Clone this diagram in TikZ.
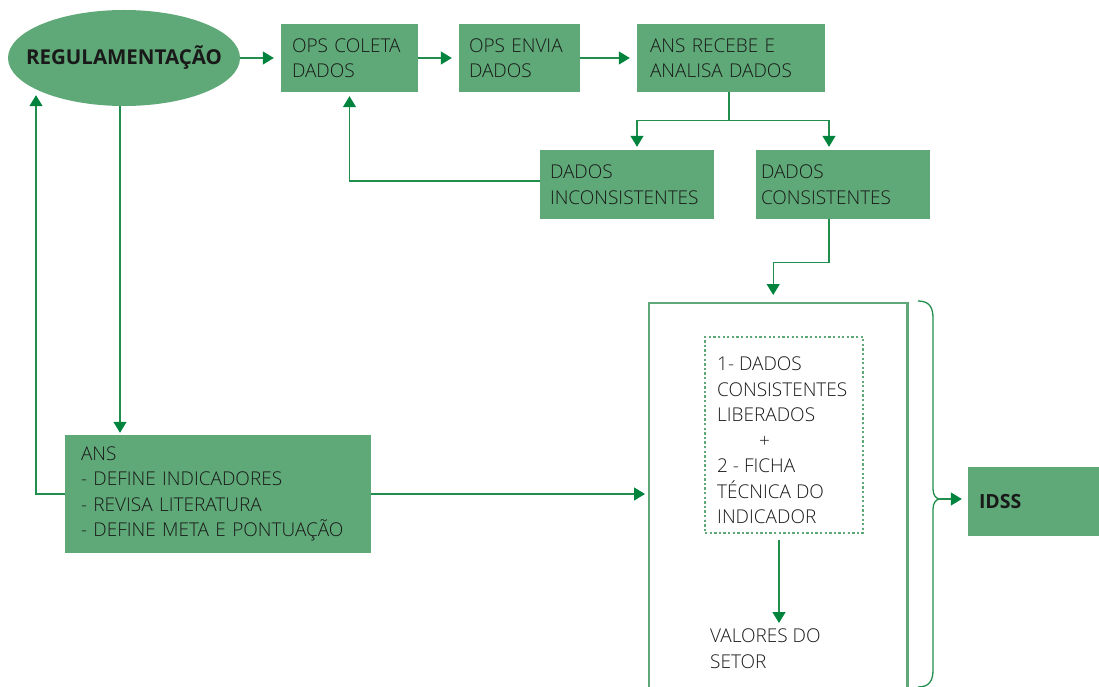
\documentclass[tikz,border=0pt]{standalone}
\usepackage{fontspec}
\setmainfont{Open Sans Light}[BoldFont={Open Sans Bold}]
\usetikzlibrary{shapes.geometric,arrows.meta,calc}
\definecolor{gfill}{RGB}{94,169,119}
\definecolor{gline}{RGB}{34,142,78}
\definecolor{garrow}{RGB}{0,132,61}
\definecolor{txtc}{RGB}{25,25,25}
\begin{document}
\begin{tikzpicture}[x=1pt,y=-1pt,
  txt/.style={font=\fontsize{19}{25.5}\selectfont, text=txtc, align=left, inner sep=0pt},
  gbox/.style={txt, fill=gfill, draw=none, rectangle, minimum height=68pt, inner ysep=0pt},
  conn/.style={draw=gline, line width=1.3pt},
  arr/.style={conn, -{Triangle[length=11pt,width=13pt,color=garrow]}},
  bigline/.style={draw=gfill, line width=2.5pt},
]
\useasboundingbox (0,0) rectangle (1099,687);

% nodes
\node[ellipse, fill=gfill, minimum width=232pt, minimum height=96pt, inner sep=0pt] (reg) at (124,58) {};
\node[font=\bfseries\fontsize{20.5}{24}\selectfont, text=txtc, inner sep=0pt] (regtxt) at (reg.center) {REGULAMENTAÇÃO};
\node[gbox, inner xsep=11pt, text width=115pt] (coleta) at (349.5,58) {OPS COLETA\\DADOS};
\node[gbox, inner xsep=10pt, text width=101pt] (envia) at (519.5,58) {OPS ENVIA\\DADOS};
\node[gbox, inner xsep=13pt, text width=162pt] (recebe) at (731,58) {ANS RECEBE E\\ANALISA DADOS};
\node[gbox, inner xsep=10pt, text width=154pt, minimum height=69pt] (incons) at (627,184.5) {DADOS\\INCONSISTENTES};
\node[gbox, inner xsep=5pt, text width=164pt, minimum height=69pt] (cons) at (843,184.5) {DADOS\\CONSISTENTES};
\node[gbox, inner xsep=16pt, text width=274pt, minimum height=118pt] (ans) at (218,494)
  {ANS\\- DEFINE INDICADORES\\- REVISA LITERATURA\\- DEFINE META E PONTUAÇÃO};
\node[gbox, inner xsep=11pt, text width=109pt, minimum height=69pt,
      font=\bfseries\fontsize{19.5}{25.5}\selectfont] (idss) at (1033.5,501.5) {IDSS};

% big open box
\node[rectangle, draw=none, minimum width=258pt, minimum height=384pt, inner sep=0pt, anchor=north west] (bigbox) at (649,303) {};
\draw[bigline] (bigbox.south west) -- (bigbox.north west) -- (bigbox.north east) -- (bigbox.south east);

% dotted box and its text
\node[rectangle, draw=gfill, line width=2.3pt, dash pattern=on 2.3pt off 2.3pt, minimum width=158pt, minimum height=196pt, inner sep=0pt] (dotbox) at (784,435) {};
\node[txt, anchor=north west] (dottxt) at (717,357)
  {1- DADOS\\CONSISTENTES\\LIBERADOS\\\hspace*{42pt}+\\2 - FICHA\\TÉCNICA DO\\INDICADOR};
\node[txt, anchor=north west] (valores) at (710,629) {VALORES DO\\SETOR};

% brace
\coordinate (btip) at (940,499);
\draw[conn] (918,301) .. controls (929,301) and (933,307) .. (933,318) -- (933,489)
  .. controls (933,495) and (936,499) .. (btip)
  .. controls (936,499) and (933,503) .. (933,509) -- (933,670)
  .. controls (933,681) and (929,687) .. (918,687);

% connectors
\draw[arr, shorten >=7pt] (reg.east) -- (coleta.west);
\draw[arr, shorten >=7pt] (coleta.east) -- (envia.west);
\draw[arr, shorten >=7pt] (envia.east) -- (recebe.west);
\draw[conn] ([xshift=-2pt]recebe.south) -- ++(0,28) coordinate (br);
\draw[arr, shorten >=3pt] (br) -| ([xshift=10pt]incons.north);
\draw[arr, shorten >=3pt] (br) -| ([xshift=-14pt]cons.north);
\draw[arr, shorten >=4pt] ([yshift=3.5pt]incons.west) -| (coleta.south);
\draw[arr, shorten >=8pt] ([xshift=-14pt]cons.south) |- ($([xshift=-14pt]cons.south)+(0,43)$) -| ([xshift=-5pt]bigbox.north);
\draw[arr, shorten >=2pt] ([xshift=-98pt]ans.north |- reg.south) -- ([xshift=-98pt]ans.north);
\draw[arr] (ans.west) -| ([xshift=-88pt,yshift=11pt]reg.south);
\draw[arr, shorten >=4pt] (ans.east) -- (ans.east -| bigbox.west);
\draw[arr, shorten <=6pt, shorten >=6pt] ([xshift=-5pt]dotbox.south) -- ([xshift=-5pt]dotbox.south |- valores.north);
\draw[arr, shorten >=6pt] (btip) -- (btip -| idss.west);
\end{tikzpicture}
\end{document}
